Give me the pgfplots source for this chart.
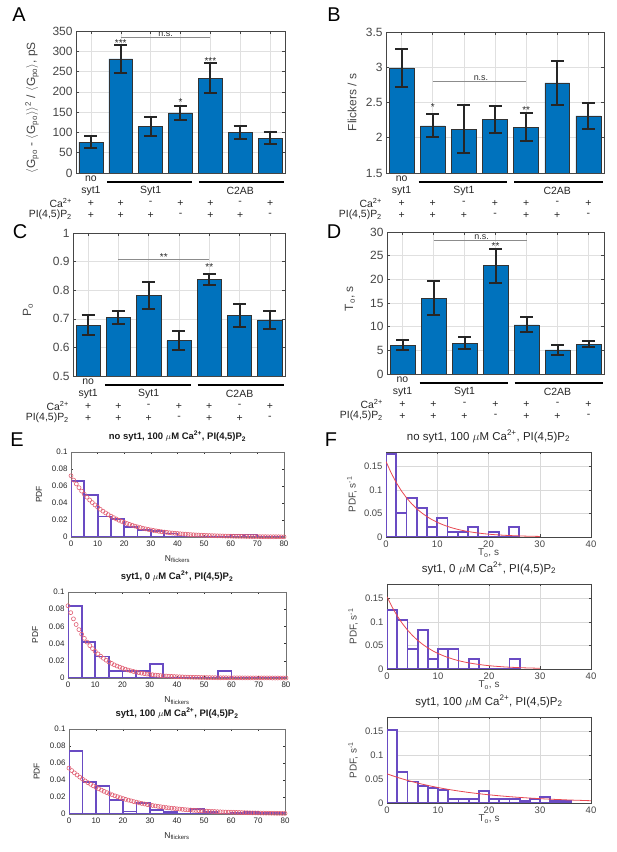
\documentclass[border=0pt]{standalone}
\usepackage{pgfplots}
\pgfplotsset{compat=1.18}
\usepackage{fontspec}
\setmainfont{Liberation Sans}
\definecolor{mblue}{RGB}{0,114,189}
\definecolor{histc}{RGB}{105,75,195}
\definecolor{circc}{RGB}{225,95,115}
\definecolor{fitc}{RGB}{232,72,82}
\definecolor{axc}{RGB}{70,70,70}
\newcommand\fsz[1]{\fontsize{#1}{#1}\selectfont}
\tikzset{
  afont/.style={font=\fsz{10.5}, text=black!85, inner sep=0pt},
  starf/.style={font=\fsz{10}, text=black!85, inner sep=0pt},
  nsf/.style={font=\fsz{9}, text=black!80, inner sep=0pt},
  ylab/.style={rotate=90, font=\fsz{12}, text=axc, inner sep=0pt, anchor=center},
}
\pgfplotsset{
  barpanel/.style={
    scale only axis, anchor=south west,
    xmin=0.5, xmax=7.5, xtick={1,2,3,4,5,6,7}, xticklabels={},
    grid=major, major grid style={black!12, line width=0.5bp},
    axis line style={axc, line width=0.6bp},
    tick style={axc, line width=0.5bp}, major tick length=3bp, tick align=inside,
    ticklabel style={font=\fsz{12}, text=axc},
    clip mode=individual,
    /pgf/number format/assume math mode=true,
    enlargelimits=false,
  },
  barstyle/.style={ybar, bar width=0.8, fill=mblue, draw=black!80, line width=0.5bp,
    error bars/.cd, y dir=both, y explicit,
    error bar style={line width=2bp, black!85},
    error mark options={rotate=90, mark size=6.5bp, line width=2bp, black!85}},
  epanel/.style={
    scale only axis, anchor=south west,
    xmin=0, xmax=80, ymin=0, ymax=0.1,
    xtick={0,10,20,30,40,50,60,70,80},
    ytick={0,0.02,0.04,0.06,0.08,0.1}, yticklabels={0,0.02,0.04,0.06,0.08,0.1},
    axis line style={black!55, line width=0.5bp},
    tick style={black!80, line width=0.5bp}, major tick length=2bp, tick align=inside,
    ticklabel style={font=\fsz{8}, text=black!85},
    label style={font=\fsz{8.5}, text=black!85},
    title style={font=\bfseries\fsz{9.5}, text=black!90, at={(rel axis cs:0.5,1)}, anchor=south, yshift=1bp},
    ylabel={PDF}, ylabel style={at={(rel axis cs:-0.15,0.5)}, anchor=center},
    xlabel={N\textsubscript{flickers}}, xlabel style={at={(rel axis cs:0.5,-0.26)}, anchor=center},
    /pgf/number format/assume math mode=true,
    enlargelimits=false,
  },
  fpanel/.style={
    scale only axis, anchor=south west,
    xmin=0, xmax=40, ymin=0, ymax=0.18,
    xtick={0,10,20,30,40},
    ytick={0,0.05,0.1,0.15}, yticklabels={0,0.05,0.1,0.15},
    grid=major, major grid style={black!15, line width=0.5bp},
    axis line style={axc, line width=0.5bp},
    tick style={axc, line width=0.5bp}, major tick length=2.5bp, tick align=inside,
    ticklabel style={font=\fsz{9.5}, text=axc},
    label style={font=\fsz{10}, text=axc},
    title style={font=\fsz{11.5}, text=black!85, at={(rel axis cs:0.5,1)}, anchor=south, yshift=0bp},
    ylabel={PDF, s\textsuperscript{-1}}, ylabel style={at={(rel axis cs:-0.166,0.5)}, anchor=center},
    xlabel={T\textsubscript{o}, s}, xlabel style={at={(rel axis cs:0.5,-0.19)}, anchor=center},
    /pgf/number format/assume math mode=true,
    enlargelimits=false,
  },
  histstyle/.style={ybar, fill=white, draw=histc, line width=1.8bp},
}
\newcommand\annot{%
  \node[afont] at ([yshift=-6bp]rel axis cs:0.0714,0) {no};
  \node[afont] at ([yshift=-18bp]rel axis cs:0.0714,0) {syt1};
  \node[afont] at ([yshift=-18bp]rel axis cs:0.3571,0) {Syt1};
  \node[afont] at ([yshift=-18bp]rel axis cs:0.7857,0) {C2AB};
  \draw[line width=1.2bp] ([yshift=-9bp]rel axis cs:0.150,0) -- ([yshift=-9bp]rel axis cs:0.557,0);
  \draw[line width=1.2bp] ([yshift=-9bp]rel axis cs:0.588,0) -- ([yshift=-9bp]rel axis cs:0.996,0);
  \node[afont, anchor=east] at ([xshift=-4bp,yshift=-30bp]rel axis cs:0,0) {Ca\textsuperscript{2+}};
  \node[afont, anchor=east] at ([xshift=-4bp,yshift=-42bp]rel axis cs:0,0) {PI(4,5)P\textsubscript{2}};
  \node[afont] at ([yshift=-30bp]rel axis cs:0.0714,0) {+};
  \node[afont] at ([yshift=-30bp]rel axis cs:0.2143,0) {+};
  \node[afont] at ([yshift=-30bp]rel axis cs:0.3571,0) {-};
  \node[afont] at ([yshift=-30bp]rel axis cs:0.5,0) {+};
  \node[afont] at ([yshift=-30bp]rel axis cs:0.6429,0) {+};
  \node[afont] at ([yshift=-30bp]rel axis cs:0.7857,0) {-};
  \node[afont] at ([yshift=-30bp]rel axis cs:0.9286,0) {+};
  \node[afont] at ([yshift=-42bp]rel axis cs:0.0714,0) {+};
  \node[afont] at ([yshift=-42bp]rel axis cs:0.2143,0) {+};
  \node[afont] at ([yshift=-42bp]rel axis cs:0.3571,0) {+};
  \node[afont] at ([yshift=-42bp]rel axis cs:0.5,0) {-};
  \node[afont] at ([yshift=-42bp]rel axis cs:0.6429,0) {+};
  \node[afont] at ([yshift=-42bp]rel axis cs:0.7857,0) {+};
  \node[afont] at ([yshift=-42bp]rel axis cs:0.9286,0) {-};
}
\newcommand\po{\textsubscript{po}}
\begin{document}
\begin{tikzpicture}
\path[use as bounding box] (0,0) rectangle (617bp,852bp);
\node[font=\fsz{20}] at (19bp,837bp) {A};
\node[font=\fsz{20}] at (334bp,837bp) {B};
\node[font=\fsz{20}] at (20bp,620bp) {C};
\node[font=\fsz{20}] at (334bp,620bp) {D};
\node[font=\fsz{20}] at (17bp,412bp) {E};
\node[font=\fsz{20}] at (331bp,412bp) {F};

% ---------- A ----------
\begin{axis}[barpanel, at={(76bp,679bp)}, width=209bp, height=142bp,
  ymin=0, ymax=350, ytick={0,50,100,150,200,250,300,350}]
\addplot[barstyle] coordinates {(1,76) +- (0,15) (2,281) +- (0,34) (3,114) +- (0,23) (4,148) +- (0,18) (5,234) +- (0,36) (6,100) +- (0,16) (7,86) +- (0,14)};
\draw[black!45, line width=0.6bp] (axis cs:2,333.6) -- (axis cs:5,333.6);
\node[nsf] at (axis cs:3.5,343) {n.s.};
\node[starf] at (axis cs:2,319) {***};
\node[starf] at (axis cs:4,175) {*};
\node[starf] at (axis cs:5,275) {***};
\node[ylab] at ([xshift=-44bp]rel axis cs:0,0.46) {$\langle$G\po{} - $\langle$G\po$\rangle\rangle$\textsuperscript{2} / $\langle$G\po$\rangle$, pS};
\annot
\end{axis}

% ---------- B ----------
\begin{axis}[barpanel, at={(386bp,679bp)}, width=218bp, height=141bp,
  ymin=1.5, ymax=3.5, ytick={1.5,2,2.5,3,3.5}]
\addplot[barstyle] coordinates {(1,2.99) +- (0,0.27) (2,2.17) +- (0,0.16) (3,2.12) +- (0,0.34) (4,2.26) +- (0,0.19) (5,2.15) +- (0,0.20) (6,2.78) +- (0,0.31) (7,2.31) +- (0,0.18)};
\draw[black!45, line width=0.6bp] (axis cs:2,2.80) -- (axis cs:5,2.80);
\node[nsf] at (axis cs:3.55,2.85) {n.s.};
\node[starf] at (axis cs:2,2.44) {*};
\node[starf] at (axis cs:5,2.39) {**};
\node[ylab] at ([xshift=-34bp]rel axis cs:0,0.5) {Flickers / s};
\annot
\end{axis}

% ---------- C ----------
\begin{axis}[barpanel, at={(73bp,476bp)}, width=212bp, height=143bp,
  ymin=0.5, ymax=1, ytick={0.5,0.6,0.7,0.8,0.9,1}]
\addplot[barstyle] coordinates {(1,0.677) +- (0,0.035) (2,0.705) +- (0,0.023) (3,0.781) +- (0,0.047) (4,0.624) +- (0,0.033) (5,0.837) +- (0,0.020) (6,0.712) +- (0,0.040) (7,0.696) +- (0,0.031)};
\draw[black!45, line width=0.6bp] (axis cs:2,0.909) -- (axis cs:5,0.909);
\node[starf] at (axis cs:3.5,0.915) {**};
\node[starf] at (axis cs:5,0.882) {**};
\node[ylab] at ([xshift=-45bp]rel axis cs:0,0.46) {P\textsubscript{o}};
\annot
\end{axis}

% ---------- D ----------
\begin{axis}[barpanel, at={(387bp,478bp)}, width=217bp, height=142bp,
  ymin=0, ymax=30, ytick={0,5,10,15,20,25,30}]
\addplot[barstyle] coordinates {(1,6.1) +- (0,1.0) (2,16.0) +- (0,3.6) (3,6.5) +- (0,1.3) (4,22.9) +- (0,3.6) (5,10.4) +- (0,1.6) (6,5.1) +- (0,1.1) (7,6.3) +- (0,0.7)};
\draw[black!45, line width=0.6bp] (axis cs:2,28.24) -- (axis cs:5,28.24);
\node[nsf] at (axis cs:3.55,28.9) {n.s.};
\node[starf] at (axis cs:4,27.05) {**};
\node[ylab] at ([xshift=-37bp]rel axis cs:0,0.53) {T\textsubscript{o}, s};
\annot
\end{axis}

% ---------- E1 ----------
\begin{axis}[epanel, at={(71bp,315bp)}, width=213bp, height=85bp,
  title={no syt1, 100 $\mu$M Ca\textsuperscript{2+}, PI(4,5)P\textsubscript{2}}]
\addplot[histstyle, bar width=5] coordinates {(2.5,0.066) (7.5,0.049) (12.5,0.024) (17.5,0.021) (22.5,0.012) (27.5,0.008) (32.5,0.007) (37.5,0.004) (42.5,0) (47.5,0) (52.5,0) (57.5,0) (62.5,0.003) (67.5,0.003) (72.5,0) (77.5,0)};
\addplot[only marks, mark=o, mark size=2bp, circc, mark options={line width=0.6bp}] coordinates {(0,0.0720)(1,0.0670)(2,0.0624)(3,0.0580)(4,0.0540)(5,0.0503)(6,0.0468)(7,0.0435)(8,0.0405)(9,0.0377)(10,0.0351)(11,0.0326)(12,0.0304)(13,0.0283)(14,0.0263)(15,0.0245)(16,0.0228)(17,0.0212)(18,0.0197)(19,0.0184)(20,0.0171)(21,0.0159)(22,0.0148)(23,0.0138)(24,0.0128)(25,0.0119)(26,0.0111)(27,0.0103)(28,0.0096)(29,0.0089)(30,0.0083)(31,0.0077)(32,0.0072)(33,0.0067)(34,0.0062)(35,0.0058)(36,0.0054)(37,0.0050)(38,0.0047)(39,0.0044)(40,0.0041)(41,0.0038)(42,0.0035)(43,0.0033)(44,0.0030)(45,0.0028)(46,0.0026)(47,0.0024)(48,0.0023)(49,0.0021)(50,0.0020)(51,0.0018)(52,0.0017)(53,0.0016)(54,0.0015)(55,0.0014)(56,0.0013)(57,0.0012)(58,0.0011)(59,0.0010)(60,0.0010)(61,0.0009)(62,0.0008)(63,0.0008)(64,0.0007)(65,0.0007)(66,0.0006)(67,0.0006)(68,0.0005)(69,0.0005)(70,0.0005)(71,0.0004)(72,0.0004)(73,0.0004)(74,0.0003)(75,0.0003)(76,0.0003)(77,0.0003)(78,0.0003)(79,0.0002)(80,0.0002)};
\end{axis}

% ---------- E2 ----------
\begin{axis}[epanel, at={(68bp,174bp)}, width=218bp, height=86bp,
  title={syt1, 0 $\mu$M Ca\textsuperscript{2+}, PI(4,5)P\textsubscript{2}}]
\addplot[histstyle, bar width=5] coordinates {(2.5,0.084) (7.5,0.042) (12.5,0.025) (17.5,0.0085) (22.5,0.0085) (27.5,0.0085) (32.5,0.0167) (37.5,0) (42.5,0) (47.5,0) (52.5,0) (57.5,0.0085) (62.5,0) (67.5,0) (72.5,0) (77.5,0)};
\addplot[only marks, mark=o, mark size=2bp, circc, mark options={line width=0.6bp}] coordinates {(0,0.0840)(1,0.0760)(2,0.0688)(3,0.0622)(4,0.0563)(5,0.0509)(6,0.0461)(7,0.0417)(8,0.0377)(9,0.0342)(10,0.0309)(11,0.0280)(12,0.0253)(13,0.0229)(14,0.0207)(15,0.0187)(16,0.0170)(17,0.0153)(18,0.0139)(19,0.0126)(20,0.0114)(21,0.0103)(22,0.0093)(23,0.0084)(24,0.0076)(25,0.0069)(26,0.0062)(27,0.0056)(28,0.0051)(29,0.0046)(30,0.0042)(31,0.0038)(32,0.0034)(33,0.0031)(34,0.0028)(35,0.0025)(36,0.0023)(37,0.0021)(38,0.0019)(39,0.0017)(40,0.0015)(41,0.0014)(42,0.0013)(43,0.0011)(44,0.0010)(45,0.0009)(46,0.0008)(47,0.0008)(48,0.0007)(49,0.0006)(50,0.0006)(51,0.0005)(52,0.0005)(53,0.0004)(54,0.0004)(55,0.0003)(56,0.0003)(57,0.0003)(58,0.0003)(59,0.0002)(60,0.0002)(61,0.0002)(62,0.0002)(63,0.0002)(64,0.0001)(65,0.0001)(66,0.0001)(67,0.0001)(68,0.0001)(69,0.0001)(70,0.0001)(71,0.0001)(72,0.0001)(73,0.0001)(74,0.0001)(75,0.0000)(76,0.0000)(77,0.0000)(78,0.0000)(79,0.0000)(80,0.0000)};
\end{axis}

% ---------- E3 ----------
\begin{axis}[epanel, at={(69bp,38bp)}, width=216bp, height=85bp,
  title={syt1, 100 $\mu$M Ca\textsuperscript{2+}, PI(4,5)P\textsubscript{2}}]
\addplot[histstyle, bar width=5] coordinates {(2.5,0.074) (7.5,0.0376) (12.5,0.033) (17.5,0.0165) (22.5,0.003) (27.5,0.0125) (32.5,0.0047) (37.5,0.0024) (42.5,0) (47.5,0.0055) (52.5,0.0024) (57.5,0) (62.5,0.0012) (67.5,0.0024) (72.5,0.0012) (77.5,0.0012)};
\addplot[only marks, mark=o, mark size=2bp, circc, mark options={line width=0.6bp}] coordinates {(0,0.0540)(1,0.0511)(2,0.0484)(3,0.0459)(4,0.0434)(5,0.0411)(6,0.0390)(7,0.0369)(8,0.0350)(9,0.0331)(10,0.0314)(11,0.0297)(12,0.0281)(13,0.0266)(14,0.0252)(15,0.0239)(16,0.0226)(17,0.0214)(18,0.0203)(19,0.0192)(20,0.0182)(21,0.0172)(22,0.0163)(23,0.0155)(24,0.0146)(25,0.0139)(26,0.0131)(27,0.0124)(28,0.0118)(29,0.0111)(30,0.0106)(31,0.0100)(32,0.0095)(33,0.0090)(34,0.0085)(35,0.0080)(36,0.0076)(37,0.0072)(38,0.0068)(39,0.0065)(40,0.0061)(41,0.0058)(42,0.0055)(43,0.0052)(44,0.0049)(45,0.0047)(46,0.0044)(47,0.0042)(48,0.0040)(49,0.0038)(50,0.0036)(51,0.0034)(52,0.0032)(53,0.0030)(54,0.0029)(55,0.0027)(56,0.0026)(57,0.0024)(58,0.0023)(59,0.0022)(60,0.0021)(61,0.0020)(62,0.0019)(63,0.0018)(64,0.0017)(65,0.0016)(66,0.0015)(67,0.0014)(68,0.0013)(69,0.0013)(70,0.0012)(71,0.0011)(72,0.0011)(73,0.0010)(74,0.0010)(75,0.0009)(76,0.0009)(77,0.0008)(78,0.0008)(79,0.0007)(80,0.0007)};
\end{axis}

% ---------- F1 ----------
\begin{axis}[fpanel, at={(386bp,315bp)}, width=205bp, height=85bp,
  title={no syt1, 100 $\mu$M Ca\textsuperscript{2+}, PI(4,5)P\textsubscript{2}}]
\addplot[histstyle, bar width=2] coordinates {(1,0.176) (3,0.051) (5,0.082) (7,0.061) (9,0.0205) (11,0.041) (13,0.010) (15,0.010) (17,0.0205) (19,0) (21,0.010) (23,0) (25,0.0205)};
\addplot[fitc, line width=0.8bp, no marks] coordinates {(0,0.1600)(1,0.1358)(2,0.1153)(3,0.0978)(4,0.0830)(5,0.0705)(6,0.0598)(7,0.0508)(8,0.0431)(9,0.0366)(10,0.0311)(11,0.0264)(12,0.0224)(13,0.0190)(14,0.0161)(15,0.0137)(16,0.0116)(17,0.0099)(18,0.0084)(19,0.0071)(20,0.0060)(21,0.0051)(22,0.0043)(23,0.0037)(24,0.0031)(25,0.0027)(26,0.0023)(27,0.0019)(28,0.0016)(29,0.0014)(30,0.0012)};
\end{axis}

% ---------- F2 ----------
\begin{axis}[fpanel, at={(387bp,183bp)}, width=204bp, height=85bp,
  title={syt1, 0 $\mu$M Ca\textsuperscript{2+}, PI(4,5)P\textsubscript{2}}]
\addplot[histstyle, bar width=2] coordinates {(1,0.125) (3,0.104) (5,0.0417) (7,0.0833) (9,0.0208) (11,0.0417) (13,0.0417) (15,0) (17,0.0208) (19,0) (21,0) (23,0) (25,0.0208)};
\addplot[fitc, line width=0.8bp, no marks] coordinates {(0,0.1530)(1,0.1312)(2,0.1125)(3,0.0964)(4,0.0827)(5,0.0709)(6,0.0608)(7,0.0521)(8,0.0447)(9,0.0383)(10,0.0329)(11,0.0282)(12,0.0242)(13,0.0207)(14,0.0177)(15,0.0152)(16,0.0130)(17,0.0112)(18,0.0096)(19,0.0082)(20,0.0070)(21,0.0060)(22,0.0052)(23,0.0044)(24,0.0038)(25,0.0033)(26,0.0028)(27,0.0024)(28,0.0021)(29,0.0018)(30,0.0015)};
\end{axis}

% ---------- F3 ----------
\begin{axis}[fpanel, at={(387bp,49bp)}, width=204bp, height=86bp,
  title={syt1, 100 $\mu$M Ca\textsuperscript{2+}, PI(4,5)P\textsubscript{2}}]
\addplot[histstyle, bar width=2] coordinates {(1,0.1535) (3,0.065) (5,0.045) (7,0.036) (9,0.032) (11,0.028) (13,0.0084) (15,0.0084) (17,0.0084) (19,0.0244) (21,0.0084) (23,0.0084) (25,0.0084) (27,0.004) (29,0.0084) (31,0.0126) (33,0.004) (35,0.004)};
\addplot[fitc, line width=0.8bp, no marks] coordinates {(0,0.0610)(1,0.0573)(2,0.0538)(3,0.0505)(4,0.0474)(5,0.0445)(6,0.0417)(7,0.0392)(8,0.0368)(9,0.0345)(10,0.0324)(11,0.0304)(12,0.0285)(13,0.0268)(14,0.0251)(15,0.0236)(16,0.0221)(17,0.0208)(18,0.0195)(19,0.0183)(20,0.0172)(21,0.0161)(22,0.0151)(23,0.0142)(24,0.0133)(25,0.0125)(26,0.0117)(27,0.0110)(28,0.0103)(29,0.0097)(30,0.0091)(31,0.0085)(32,0.0080)(33,0.0075)(34,0.0071)(35,0.0066)(36,0.0062)(37,0.0058)(38,0.0055)(39,0.0051)(40,0.0048)};
\end{axis}
\end{tikzpicture}
\end{document}
